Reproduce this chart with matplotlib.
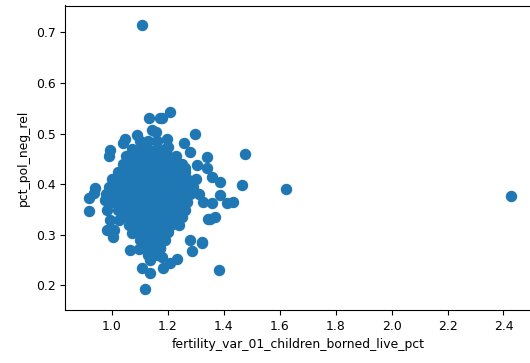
import matplotlib
matplotlib.use("Agg")
import matplotlib.pyplot as plt

# Outlying / edge points
edge_x = [1.109, 1.119, 2.426, 1.621, 1.476, 1.464, 1.387, 1.384, 1.209, 1.134, 1.170,
          1.143, 1.158, 1.089, 1.048, 1.041, 1.196, 0.994, 0.988, 1.202, 0.940,
          0.934, 0.916, 0.916, 0.976, 0.982, 0.994, 1.024, 0.982, 1.006, 1.004,
          1.071, 1.065, 1.095, 1.137, 1.179, 1.208, 1.232, 1.107, 1.137, 1.184,
          1.179, 1.298, 1.258, 1.280, 1.339, 1.262, 1.304, 1.339, 1.357, 1.387,
          1.411, 1.434, 1.327, 1.357, 1.345, 1.280, 1.321, 1.286, 1.172, 1.351,
          1.369, 1.321]
edge_y = [0.714, 0.193, 0.376, 0.390, 0.459, 0.398, 0.378, 0.230, 0.542, 0.531, 0.531,
          0.507, 0.504, 0.497, 0.490, 0.481, 0.490, 0.467, 0.456, 0.474, 0.392,
          0.382, 0.372, 0.347, 0.369, 0.349, 0.329, 0.329, 0.309, 0.309, 0.295,
          0.303, 0.270, 0.273, 0.250, 0.256, 0.245, 0.253, 0.234, 0.225, 0.234,
          0.530, 0.499, 0.482, 0.464, 0.454, 0.433, 0.438, 0.433, 0.415, 0.405,
          0.362, 0.365, 0.365, 0.362, 0.332, 0.290, 0.285, 0.268, 0.274, 0.332,
          0.335, 0.284]

# Dense core of the cloud (estimated)
core_x = [1.10, 1.13, 1.16,
          1.07, 1.10, 1.13, 1.16, 1.19,
          1.05, 1.08, 1.11, 1.14, 1.17, 1.20, 1.23,
          1.04, 1.07, 1.10, 1.13, 1.16, 1.19, 1.22, 1.25,
          1.02, 1.05, 1.08, 1.11, 1.14, 1.17, 1.20, 1.23, 1.26,
          1.00, 1.03, 1.06, 1.09, 1.12, 1.15, 1.18, 1.21, 1.24, 1.27, 1.30,
          0.99, 1.02, 1.05, 1.08, 1.11, 1.14, 1.17, 1.20, 1.23, 1.26, 1.29,
          0.98, 1.01, 1.04, 1.07, 1.10, 1.13, 1.16, 1.19, 1.22, 1.25, 1.28, 1.31,
          1.00, 1.03, 1.06, 1.09, 1.12, 1.15, 1.18, 1.21, 1.24, 1.27,
          1.02, 1.05, 1.08, 1.11, 1.14, 1.17, 1.20, 1.23, 1.26,
          1.04, 1.07, 1.10, 1.13, 1.16, 1.19, 1.22, 1.25,
          1.06, 1.09, 1.12, 1.15, 1.18, 1.21, 1.24,
          1.08, 1.11, 1.14, 1.17, 1.20,
          1.10, 1.13, 1.16, 1.19,
          1.11, 1.14, 1.17,
          1.13, 1.16]
core_y = [0.485] * 3 + [0.470] * 5 + [0.455] * 7 + [0.440] * 8 + [0.425] * 9 + \
         [0.410] * 11 + [0.395] * 11 + [0.380] * 12 + [0.365] * 10 + [0.350] * 9 + \
         [0.335] * 8 + [0.320] * 7 + [0.305] * 5 + [0.290] * 4 + [0.275] * 3 + [0.260] * 2

x_label = "fertility_var_01_children_borned_live_pct"
y_label = "pct_pol_neg_rel"
x_ticks = [1.0, 1.2, 1.4, 1.6, 1.8, 2.0, 2.2, 2.4]
y_ticks = [0.2, 0.3, 0.4, 0.5, 0.6, 0.7]

fs = 8.9
fig = plt.figure(figsize=(5.30, 3.63), dpi=100)
ax = fig.add_axes([65.3 / 530, 53 / 363, (532 - 65.3) / 530, (310 - 5.5) / 363])
ax.scatter(edge_x + core_x, edge_y + core_y, s=52, color="#1f77b4")
ax.set_xlim(0.833, 2.502)
ax.set_ylim(0.1516, 0.753)
ax.set_xticks(x_ticks)
ax.set_xticklabels([f"{t:.1f}" for t in x_ticks])
ax.set_yticks(y_ticks)
ax.set_yticklabels([f"{t:.1f}" for t in y_ticks])
ax.tick_params(labelsize=fs)
ax.set_xlabel(x_label, fontsize=fs)
ax.set_ylabel(y_label, fontsize=fs)
fig.savefig("out.png", dpi=100)
